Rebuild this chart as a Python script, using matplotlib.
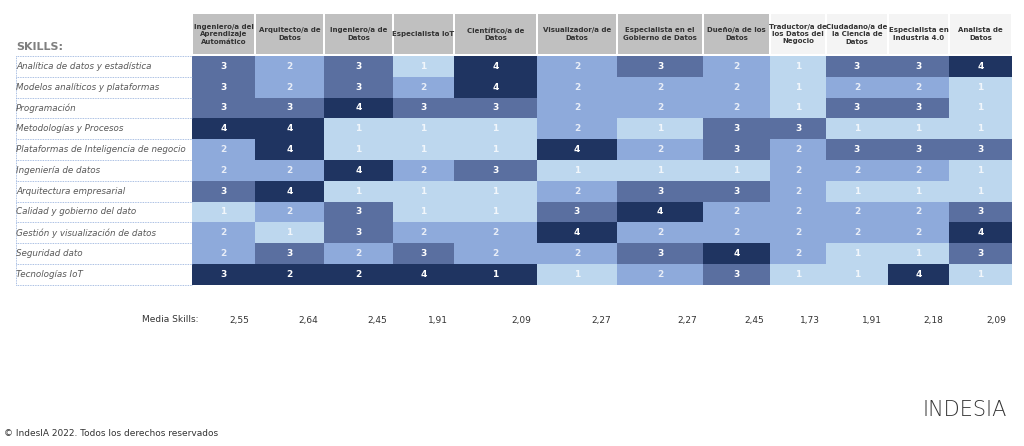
import matplotlib.pyplot as plt
import numpy as np
from matplotlib.colors import ListedColormap, BoundaryNorm

# 数据
roles = ['Ingeniero/a del\nAprendizaje\nAutomático', 'Arquitecto/a de\nDatos', 'Ingeniero/a de\nDatos',
         'Especialista IoT', 'Científico/a de\nDatos', 'Visualizador/a de\nDatos',
         'Especialista en el\nGobierno de Datos', 'Dueño/a de los\nDatos', 'Traductor/a de\nlos Datos del\nNegocio',
         'Ciudadano/a de\nla Ciencia de\nDatos', 'Especialista en\nIndustria 4.0', 'Analista de\nDatos']
skills = ['Analítica de datos y estadística', 'Modelos analíticos y plataformas', 'Programación',
          'Metodologías y Procesos', 'Plataformas de Inteligencia de negocio', 'Ingeniería de datos',
          'Arquitectura empresarial', 'Calidad y gobierno del dato', 'Gestión y visualización de datos',
          'Seguridad dato', 'Tecnologías IoT']
values = np.array([
    [3, 2, 3, 1, 4, 2, 3, 2, 1, 3, 3, 4],
    [3, 2, 3, 2, 4, 2, 2, 2, 1, 2, 2, 1],
    [3, 3, 4, 3, 3, 2, 2, 2, 1, 3, 3, 1],
    [4, 4, 1, 1, 1, 2, 1, 3, 3, 1, 1, 1],
    [2, 4, 1, 1, 1, 4, 2, 3, 2, 3, 3, 3],
    [2, 2, 4, 2, 3, 1, 1, 1, 2, 2, 2, 1],
    [3, 4, 1, 1, 1, 2, 3, 3, 2, 1, 1, 1],
    [1, 2, 3, 1, 1, 3, 4, 2, 2, 2, 2, 3],
    [2, 1, 3, 2, 2, 4, 2, 2, 2, 2, 2, 4],
    [2, 3, 2, 3, 2, 2, 3, 4, 2, 1, 1, 3],
    [3, 2, 2, 4, 1, 1, 2, 3, 1, 1, 4, 1],
])
# 颜色等级（IoT 行前五列为深色高亮）
shade = values.copy()
shade[10, :5] = 4
media = ['2,55', '2,64', '2,45', '1,91', '2,09', '2,27', '2,27', '2,45', '1,73', '1,91', '2,18', '2,09']

# 布局（像素坐标）
x_edges = np.array([192, 255, 324, 393, 454, 537, 617, 703, 770, 826, 888, 949, 1012])
y_top, row_h = 56, 20.8
y_edges = y_top + row_h * np.arange(len(skills) + 1)

fig = plt.figure(figsize=(10.24, 4.46), dpi=100)
ax = fig.add_axes([0, 0, 1, 1])
ax.set_xlim(0, 1024)
ax.set_ylim(446, 0)
ax.axis('off')

cmap = ListedColormap(['#bdd7ee', '#8eaadb', '#5a6fa0', '#1f3461'])
norm = BoundaryNorm([0.5, 1.5, 2.5, 3.5, 4.5], 4)
ax.pcolormesh(x_edges, y_edges, shade, cmap=cmap, norm=norm)

for i in range(len(skills)):
    for j in range(len(roles)):
        ax.text((x_edges[j] + x_edges[j + 1]) / 2, (y_edges[i] + y_edges[i + 1]) / 2, str(values[i, j]),
                ha='center', va='center', color='white', fontsize=6.5, fontweight='bold',
                alpha=1 if shade[i, j] > 2 else 0.8)

# 表头
for j, r in enumerate(roles):
    fc = '#c0c0c0' if j < 8 else '#f4f4f4'
    ax.add_patch(plt.Rectangle((x_edges[j] + 1, 14), x_edges[j + 1] - x_edges[j] - 2, 40, fc=fc, ec='none'))
    ax.text((x_edges[j] + x_edges[j + 1]) / 2, 34, r, ha='center', va='center', fontsize=5,
            fontweight='bold', color='#333333', linespacing=1.3)

# 行标签
ax.text(16, 47, 'SKILLS:', fontsize=8, fontweight='bold', color='#7f7f7f', va='center')
for i, s in enumerate(skills):
    ax.text(16, (y_edges[i] + y_edges[i + 1]) / 2, s, fontsize=6.3, style='italic', color='#595959', va='center')
for y in y_edges:
    ax.plot([16, 192], [y, y], ls=(0, (1, 1)), lw=0.6, color='#8eaadb')
ax.plot([16, 16], [y_edges[0], y_edges[-1]], ls=(0, (1, 1)), lw=0.6, color='#8eaadb')

# 平均值
ax.text(198, 320, 'Media Skills:', fontsize=6.5, ha='right', va='center', color='#333333')
for j, m in enumerate(media):
    ax.text(x_edges[j + 1] - 6, 320, m, fontsize=6.5, ha='right', va='center', color='#333333')

# 页脚
ax.text(4, 433, '© IndesIA 2022. Todos los derechos reservados', fontsize=6.5, va='center', color='#333333')
ax.text(965, 410, 'INDESIA', fontsize=15, ha='center', va='center', color='#333333', fontweight='light')

fig.savefig('out.png')
